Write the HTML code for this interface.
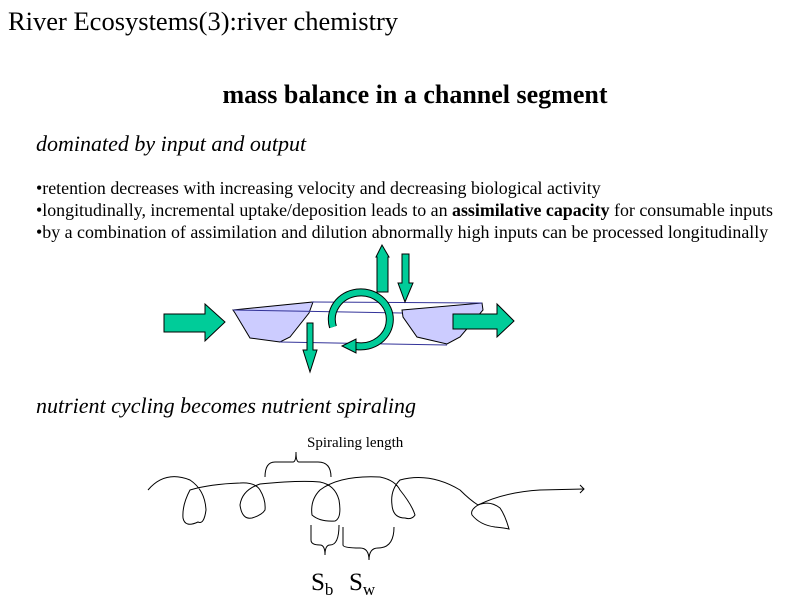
<!DOCTYPE html>
<html><head><meta charset="utf-8"><style>
html,body{margin:0;padding:0;background:#fff}
svg{display:block}
text{font-family:"Liberation Serif",serif;fill:#000}
</style></head><body>
<svg width="800" height="600" viewBox="0 0 800 600">
<text x="8" y="30" font-size="26.5">River Ecosystems(3):river chemistry</text>
<text x="415" y="103" font-size="26" font-weight="bold" text-anchor="middle">mass balance in a channel segment</text>
<text x="36" y="151" font-size="22" font-style="italic">dominated by input and output</text>
<text x="36" y="194" font-size="17.9">•retention decreases with increasing velocity and decreasing biological activity</text>
<text x="36" y="216" font-size="17.9">•longitudinally, incremental uptake/deposition leads to an <tspan font-weight="bold">assimilative capacity</tspan> for consumable inputs</text>
<text x="36" y="238" font-size="17.9">•by a combination of assimilation and dilution abnormally high inputs can be processed longitudinally</text>

<g stroke="#000" stroke-width="1" fill="#ccccff">
<polygon points="233,310 313,302 309,313 290,337 280,342 250,338 235,313"/>
<polygon points="402,310 482,303 483,310 460,337 447,344 417,337 403,317"/>
</g>
<g stroke="#333399" stroke-width="1" fill="none">
<line x1="312" y1="302" x2="482" y2="303"/>
<line x1="233" y1="310" x2="402" y2="313"/>
<line x1="280" y1="342" x2="447" y2="345"/>
</g>
<g stroke="#000" stroke-width="1" fill="#00cc99">
<polygon points="164,314 205,314 205,304 225,322 205,341 205,332 164,332"/>
<polygon points="453,314 497,314 497,304 514,321 497,337 497,329 453,329"/>
<polygon points="377,292 377,257 376,257 382,245 389,257 388,257 388,292"/>
<polygon points="402,254 409,254 409,283 413,283 405,302 398,283 402,283"/>
<polygon points="307,323 313,323 313,350 317,350 310,372 303,350 307,350"/>
</g>
<path d="M333,327 A29,27 0 1 1 356,346" fill="none" stroke="#000" stroke-width="8"/>
<path d="M333,327 A29,27 0 1 1 356,346" fill="none" stroke="#00cc99" stroke-width="6"/>
<polygon points="356,339 356,353 342,346" fill="#00cc99" stroke="#000" stroke-width="1"/>

<text x="36" y="413" font-size="22" font-style="italic">nutrient cycling becomes nutrient spiraling</text>
<text x="307" y="447" font-size="15">Spiraling length</text>
<g fill="none" stroke="#000" stroke-width="1">
<path d="M265,477 Q265,462 275,462 L293,462 Q296,462 296,452 Q296,462 299,462 L318,462 Q331,462 331,477"/>
<path d="M148,490 Q165,470 190,480 Q205,490 206,510 Q204,525 198,522 Q185,528 183,518 Q182,505 190,490 Q210,484 240,483 Q255,482 260,490 Q266,500 265,510 Q262,515 252,518 Q242,520 240,505 Q242,490 260,484 Q300,480 320,482 Q335,485 339,500 Q342,518 335,521 Q320,522 312,515 Q310,500 320,490 Q340,475 380,477 Q395,480 400,490 Q412,505 415,515 Q412,520 405,518 Q393,518 392,505 Q390,490 400,480 Q430,472 460,490 Q470,500 478,505 Q505,492 540,490 L584,489"/>
<path d="M478,505 Q470,510 472,515 Q480,525 495,527 Q505,528 509,529 Q505,515 500,508 Q490,500 478,505"/>
<path d="M580,485 L584,489 L580,493"/>
<path d="M311,525 L311,540 Q311,545 320,545 Q325,545 325,555 Q325,545 330,545 Q339,545 339,525"/>
<path d="M343,527 L343,545 Q343,548 360,548 Q369,548 369,560 Q369,548 378,548 Q394,548 394,527"/>
</g>
<text x="311" y="590" font-size="25">S<tspan font-size="17" dy="5">b</tspan></text>
<text x="349" y="590" font-size="25">S<tspan font-size="17" dy="5">w</tspan></text>
</svg>
</body></html>
